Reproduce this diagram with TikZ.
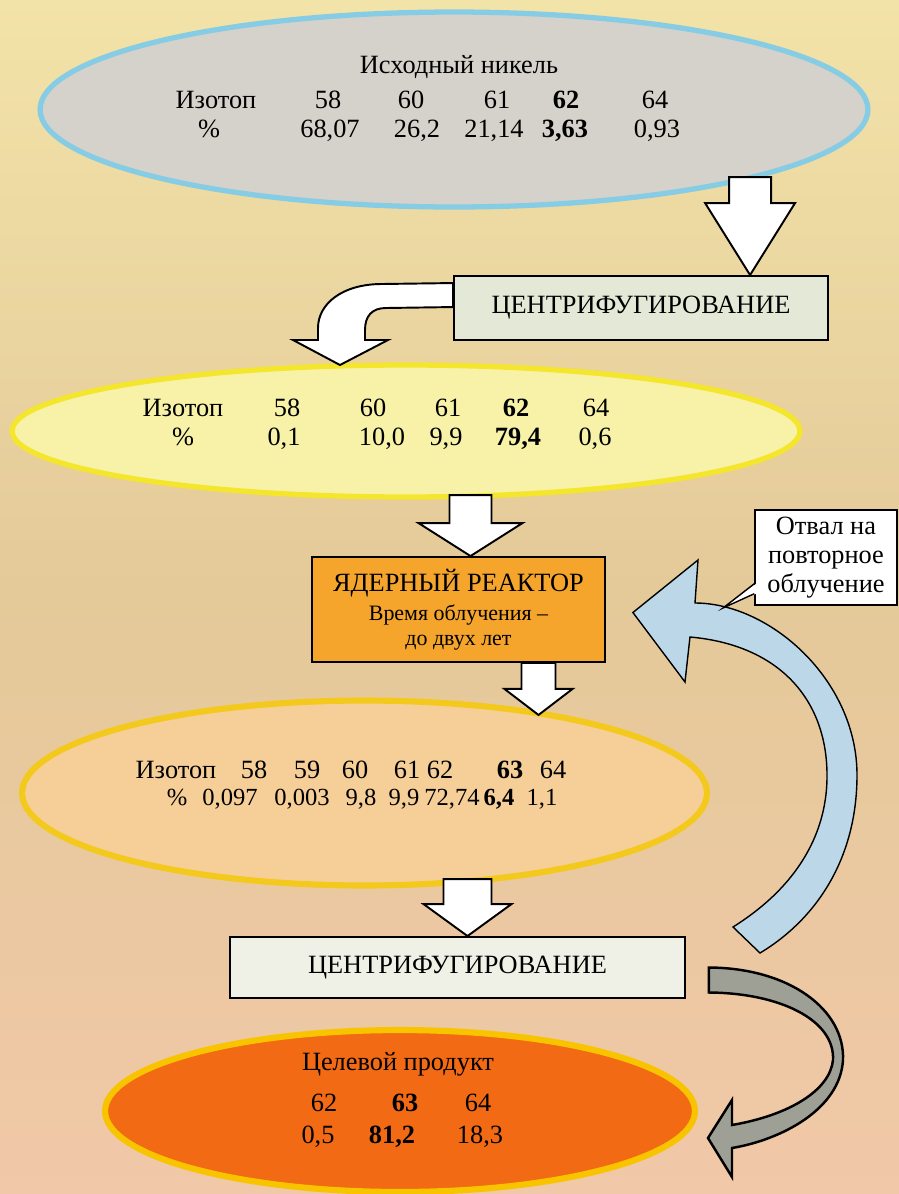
\documentclass[tikz,border=0pt]{standalone}
\usepackage{fontspec}
\setmainfont{Liberation Serif}
\usepackage{tikz}
\usetikzlibrary{calc,shapes.geometric}
\definecolor{paperTop}{HTML}{F2E3A8}
\definecolor{paperMid}{HTML}{E4C999}
\definecolor{paperBot}{HTML}{F1C8A8}
\definecolor{rimBlue}{HTML}{86CCE4}
\definecolor{nickelGray}{HTML}{D4D2CA}
\definecolor{rimYellow}{HTML}{F3E62C}
\definecolor{enrYellow}{HTML}{F7F2A8}
\definecolor{rimGold}{HTML}{F4C91E}
\definecolor{irrPeach}{HTML}{F6CF98}
\definecolor{prodOrange}{HTML}{F26A14}
\definecolor{rimProd}{HTML}{F8C400}
\definecolor{boxGreen}{HTML}{E4E8D6}
\definecolor{reactorOrange}{HTML}{F5A52C}
\definecolor{loopBlue}{HTML}{BCD8E8}
\definecolor{backGray}{HTML}{9EA096}

% block arrow pointing down: tip, shaft half, head half, head length, total length
\newcommand{\blockdown}[5]{%
  \draw[blockarr] (#1) -- ++(#3,-#4) -- ++({#2-#3},0) -- ++(0,{#4-#5}) -- ++({-2*#2},0)
    -- ++(0,{#5-#4}) -- ++({#2-#3},0) -- cycle;}

\begin{document}
\begin{tikzpicture}[x=0.02cm,y=-0.02cm,font=\fontsize{15}{16.5}\selectfont,
  num/.style={inner sep=0pt,text height=10pt,text depth=0pt},
  ellnode/.style={ellipse,inner sep=0pt,line width=3pt},
  procbox/.style={rectangle,draw=black,line width=1.1pt,inner sep=0pt},
  callbox/.style={rectangle,draw=black,fill=white,line width=0.8pt,inner sep=0pt},
  blockarr/.style={draw=black,fill=white,line width=1.1pt,line join=miter}]
  \useasboundingbox (0,0) rectangle (899,1194);
  % paper
  \shade[top color=paperTop,bottom color=paperBot,middle color=paperMid] (0,0) rectangle (899,1194);
  % ellipses
  \node[ellnode,draw=rimBlue,fill=nickelGray,minimum width=16.56cm,minimum height=3.9cm] (e1) at (454,109.5) {};
  \node[ellnode,draw=rimYellow,fill=enrYellow,minimum width=15.76cm,minimum height=2.64cm] (e2) at (406,431) {};
  \node[ellnode,draw=rimGold,fill=irrPeach,line width=3.5pt,minimum width=13.7cm,minimum height=3.7cm] (e3) at (364.5,793) {};
  \node[ellnode,draw=rimProd,fill=prodOrange,line width=3.5pt,minimum width=11.8cm,minimum height=3.24cm] (e4) at (400,1111) {};
  % boxes
  \node[procbox,fill=boxGreen,minimum width=7.48cm,minimum height=1.28cm] (c1) at (641,308) {ЦЕНТРИФУГИРОВАНИЕ};
  \node[procbox,fill=reactorOrange,minimum width=5.86cm,minimum height=2.1cm,align=center,
        font=\fontsize{12.5}{14.5}\selectfont] (r) at (458.5,609.5)
     {{\fontsize{15}{17}\selectfont ЯДЕРНЫЙ РЕАКТОР}\\[2pt]Время облучения –\\до двух лет};
  \node[procbox,fill=boxGreen!60!white,minimum width=9.1cm,minimum height=1.22cm] (c2) at (457.5,967.5) {ЦЕНТРИФУГИРОВАНИЕ};
  % straight arrows
  \blockdown{$(c1.north west)+(297,0)$}{21}{45}{72}{98}
  \blockdown{$(r.north)+(12,0)$}{21}{52}{33}{61}
  \blockdown{$(r.south)+(80,52)$}{17}{34}{26}{52}
  \blockdown{$(c2.north)+(10,0)$}{24}{44}{32}{57}
  % bent arrow from first centrifuge
  \draw[blockarr] ($(c1.north west)+(0,8)$) -- (382,284) .. controls (342,284) and (318,304) .. (318,328)
    -- (318,340) -- (293,340) -- (340,365) -- (388,340) -- (365,340) -- (365,330)
    .. controls (365,316) and (372,308) .. (386,308) -- ($(c1.north west)+(0,32)$) -- cycle;
  % loop back to reactor
  \draw[blockarr,fill=loopBlue,line width=0.8pt] ($(r.east)+(27,3)$) -- (698,560) -- (695,603)
    .. controls (770,603) and (857,680) .. (857,775) .. controls (857,860) and (815,920) .. (760,953)
    -- (733,927) .. controls (800,885) and (828,830) .. (827,773)
    .. controls (826,700) and (780,645) .. (690,637) -- (685,682) -- cycle;
  % product arrow
  \draw[blockarr,fill=backGray,line width=1.4pt] ($(c2.east)+(23,0)$)
    .. controls (790,968) and (845,1010) .. (843,1060) .. controls (840,1110) and (780,1140) .. (732,1148)
    -- (732,1177) -- (708,1138) -- (732,1100) -- (732,1125)
    .. controls (790,1115) and (830,1090) .. (833,1060) .. controls (835,1020) and (780,993) .. ($(c2.east)+(23,25)$) -- cycle;
  % callout
  \node[callbox,minimum width=2.84cm,minimum height=1.9cm,align=center] (cb) at (826,557.5) {Отвал на\\повторное\\облучение};
  \coordinate (tailtip) at (723,608);
  \fill[white] ($(cb.south west)+(2,-12)$) -- (tailtip) -- ($(cb.south west)+(2,-22)$) -- cycle;
  \draw[line width=0.8pt] ($(cb.south west)+(0,-12)$) -- (tailtip) -- ($(cb.south west)+(0,-22)$);
  % texts: source nickel
  \node[num] (t1) at (459,65) {Исходный никель};
  \foreach \x/\t [count=\i] in {216/Изотоп,328/58,411/60,497/61,566/\textbf{62},655/64}
    \node[num] (ia\i) at (\x,100) {\t};
  \foreach \x/\t [count=\i] in {209/\%,330/{68,07},417/{26,2},494/{21,14},565/{\textbf{3,63}},657/{0,93}}
    \node[num] (pa\i) at (\x,129) {\t};
  % texts: enriched
  \foreach \x/\t [count=\i] in {183/Изотоп,287/58,373/60,448/61,516/\textbf{62},596/64}
    \node[num] (ib\i) at (\x,408) {\t};
  \foreach \x/\t [count=\i] in {183/\%,284/{0,1},382/{10,0},446/{9,9},518/{\textbf{79,4}},595/{0,6}}
    \node[num] (pb\i) at (\x,437) {\t};
  % texts: irradiated
  \foreach \x/\t [count=\i] in {176/Изотоп,254/58,307/59,355/60,407/61,440/62,510/\textbf{63},553/64}
    \node[num] (ic\i) at (\x,770) {\t};
  \foreach \x/\t [count=\i] in {177/\%,230/{0,097},302/{0,003},361/{9,8},404/{9,9},452/{72,74},499/{\textbf{6,4}},542/{1,1}}
    \node[num,font=\fontsize{14}{16}\selectfont] (pc\i) at (\x,797) {\t};
  % texts: product
  \node[num] (t4) at (398,1062) {Целевой продукт};
  \foreach \x/\t [count=\i] in {324/62,405/\textbf{63},478/64}
    \node[num] (id\i) at (\x,1103) {\t};
  \foreach \x/\t [count=\i] in {318/{0,5},392/{\textbf{81,2}},480/{18,3}}
    \node[num] (pd\i) at (\x,1135) {\t};
\end{tikzpicture}
\end{document}
